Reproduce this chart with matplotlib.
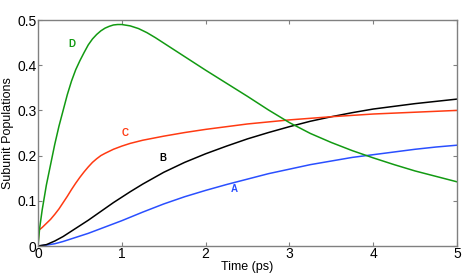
import matplotlib
matplotlib.use("Agg")
import matplotlib.pyplot as plt

plt.rcParams['font.family'] = ['Liberation Sans', 'DejaVu Sans']

t_A = [0, 0.1, 0.2, 0.3, 0.4, 0.5, 0.6, 0.7, 0.8, 0.9, 1.0, 1.25, 1.5, 1.75, 2.0,
       2.25, 2.5, 2.75, 3.0, 3.25, 3.5, 3.75, 4.0, 4.25, 4.5, 4.75, 5.0]
pop_A = [0, 0.002, 0.005, 0.010, 0.016, 0.022, 0.028, 0.035, 0.042, 0.049, 0.056,
         0.075, 0.093, 0.109, 0.123, 0.136, 0.148, 0.160, 0.170, 0.180, 0.188,
         0.196, 0.202, 0.208, 0.214, 0.219, 0.223]
t_B = [0, 0.1, 0.2, 0.3, 0.4, 0.5, 0.6, 0.7, 0.8, 0.9, 1.0, 1.1, 1.25, 1.5, 1.75,
       2.0, 2.25, 2.5, 2.75, 3.0, 3.25, 3.5, 3.75, 4.0, 4.25, 4.5, 4.75, 5.0]
pop_B = [0, 0.003, 0.011, 0.021, 0.033, 0.045, 0.057, 0.070, 0.083, 0.096, 0.108,
         0.120, 0.137, 0.163, 0.185, 0.204, 0.221, 0.237, 0.251, 0.264, 0.276,
         0.286, 0.295, 0.303, 0.309, 0.315, 0.320, 0.325]
t_C = [0, 0.01, 0.05, 0.1, 0.15, 0.2, 0.25, 0.3, 0.35, 0.4, 0.45, 0.5, 0.55, 0.6,
       0.65, 0.7, 0.75, 0.8, 0.9, 1.0, 1.1, 1.25, 1.5, 1.75, 2.0, 2.5, 3.0, 3.5,
       4.0, 4.5, 5.0]
pop_C = [0, 0.035, 0.041, 0.050, 0.059, 0.070, 0.082, 0.096, 0.110, 0.125, 0.139,
         0.152, 0.164, 0.175, 0.185, 0.193, 0.200, 0.205, 0.214, 0.221, 0.227,
         0.234, 0.243, 0.251, 0.258, 0.270, 0.279, 0.286, 0.292, 0.296, 0.300]
t_D = [0, 0.02, 0.05, 0.1, 0.15, 0.2, 0.25, 0.3, 0.35, 0.4, 0.45, 0.5, 0.55, 0.6,
       0.65, 0.7, 0.75, 0.8, 0.85, 0.9, 0.95, 1.0, 1.1, 1.2, 1.3, 1.4, 1.5, 1.6,
       1.75, 2.0, 2.25, 2.5, 2.75, 3.0, 3.25, 3.5, 3.75, 4.0, 4.25, 4.5, 4.75, 5.0]
pop_D = [0, 0.040, 0.080, 0.135, 0.180, 0.225, 0.265, 0.300, 0.335, 0.365, 0.390,
         0.410, 0.428, 0.445, 0.458, 0.468, 0.476, 0.482, 0.486, 0.489, 0.490,
         0.490, 0.487, 0.481, 0.472, 0.461, 0.449, 0.437, 0.419, 0.389, 0.360,
         0.331, 0.301, 0.273, 0.249, 0.229, 0.211, 0.195, 0.180, 0.166, 0.154, 0.142]

labels = ['A', 'B', 'C', 'D']
label_pos = [(2.34, 0.126), (1.49, 0.195), (1.04, 0.25), (0.41, 0.447)]
colors = ['#2a4fff', '#000000', '#ff3a12', '#129a12']

x_ticks = [0, 1, 2, 3, 4, 5]
y_ticks = [0, 0.1, 0.2, 0.3, 0.4, 0.5]
y_tick_labels = ['0', '0.1', '0.2', '0.3', '0.4', '0.5']

fig = plt.figure(figsize=(4.63, 2.78), dpi=100)
ax = fig.add_axes([38/463, 1-246/278, (457-38)/463, (246-20)/278])

series = [(t_A, pop_A), (t_B, pop_B), (t_C, pop_C), (t_D, pop_D)]
for (tx, ty), c in zip(series, colors):
    ax.plot(tx, ty, color=c, lw=1.1)
for lab, (lx, ly), c in zip(labels, label_pos, colors):
    ax.text(lx, ly, lab, color=c, fontsize=7, fontweight='bold', ha='center', va='center')

ax.set_xlim(0, 5)
ax.set_ylim(0, 0.5)
ax.set_xticks(x_ticks)
ax.set_xticklabels([str(v) for v in x_ticks])
ax.set_yticks(y_ticks)
ax.set_yticklabels(y_tick_labels)
ax.tick_params(direction='in', top=True, right=True, length=3, width=0.8,
               color='#808080', labelsize=10, pad=1)
for s in ax.spines.values():
    s.set_color('#808080')
    s.set_linewidth(1.0)
ax.set_xlabel('Time (ps)', fontsize=9, labelpad=0)
ax.set_ylabel('Subunit Populations', fontsize=9, labelpad=2)

fig.savefig('out.png', dpi=100)
